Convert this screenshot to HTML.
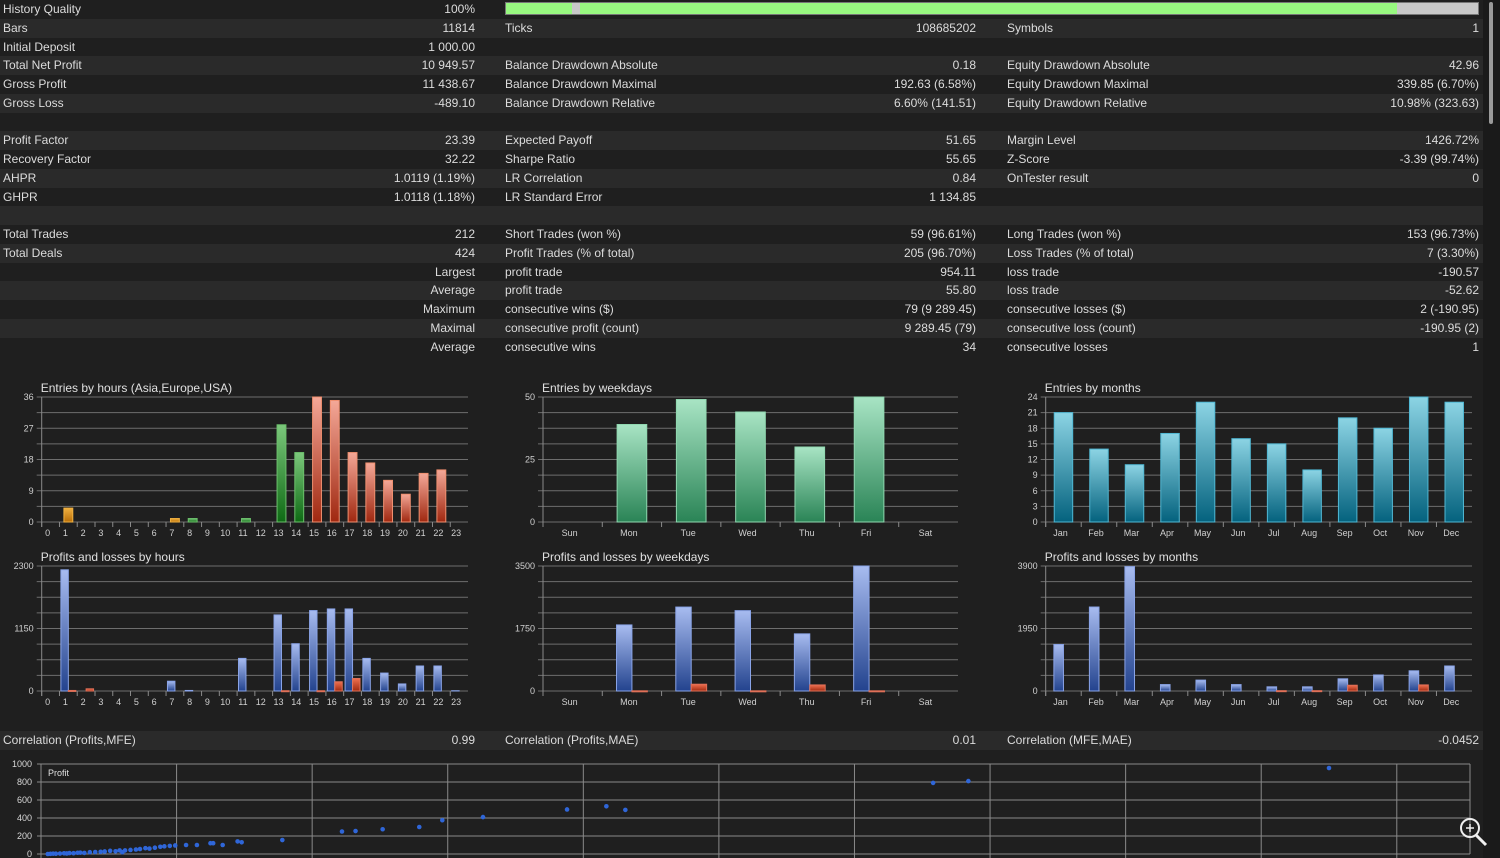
<!DOCTYPE html>
<html><head><meta charset="utf-8">
<style>
html,body{margin:0;padding:0;background:#1f1f1f;width:1500px;height:858px;overflow:hidden;font-family:"Liberation Sans",sans-serif;color:#dcdcdc}
.row{position:absolute;left:0;width:1483px;height:19px;font-size:12px;line-height:19px}
.row.l{background:#2a2a2a}
.c{position:absolute;top:0;white-space:nowrap}
.r{text-align:right}
#sb{position:absolute;left:1483px;top:0;width:17px;height:858px;background:#1a1a1a}
#thumb{position:absolute;left:1489px;top:2px;width:4px;height:122px;background:#9a9a9a;border-radius:2px}
svg{position:absolute;left:0;top:0}
</style></head><body>
<div id="tbl"></div>
<div id="sb"></div>
<div id="thumb"></div>
<svg id="ch" width="1500" height="858">
<defs>
<linearGradient id="gOr" x1="0" y1="0" x2="0" y2="1"><stop offset="0" stop-color="#f0b040"/><stop offset="1" stop-color="#b86e08"/></linearGradient>
<linearGradient id="gGr" x1="0" y1="0" x2="0" y2="1"><stop offset="0" stop-color="#7cc87c"/><stop offset="1" stop-color="#0e6a14"/></linearGradient>
<linearGradient id="gRd" x1="0" y1="0" x2="0" y2="1"><stop offset="0" stop-color="#f4a898"/><stop offset="1" stop-color="#a02810"/></linearGradient>
<linearGradient id="gWk" x1="0" y1="0" x2="0" y2="1"><stop offset="0" stop-color="#a8e4c4"/><stop offset="1" stop-color="#2a8456"/></linearGradient>
<linearGradient id="gMo" x1="0" y1="0" x2="0" y2="1"><stop offset="0" stop-color="#8cd4e4"/><stop offset="1" stop-color="#04627e"/></linearGradient>
<linearGradient id="gBl" x1="0" y1="0" x2="0" y2="1"><stop offset="0" stop-color="#a8bcf0"/><stop offset="1" stop-color="#23438e"/></linearGradient>
<linearGradient id="gLs" x1="0" y1="0" x2="0" y2="1"><stop offset="0" stop-color="#f07050"/><stop offset="1" stop-color="#a02a10"/></linearGradient>
</defs>
</svg>
<script>
const rows=[
["History Quality","100%","","","",""],
["Bars","11814","Ticks","108685202","Symbols","1"],
["Initial Deposit","1 000.00","","","",""],
["Total Net Profit","10 949.57","Balance Drawdown Absolute","0.18","Equity Drawdown Absolute","42.96"],
["Gross Profit","11 438.67","Balance Drawdown Maximal","192.63 (6.58%)","Equity Drawdown Maximal","339.85 (6.70%)"],
["Gross Loss","-489.10","Balance Drawdown Relative","6.60% (141.51)","Equity Drawdown Relative","10.98% (323.63)"],
["","","","","",""],
["Profit Factor","23.39","Expected Payoff","51.65","Margin Level","1426.72%"],
["Recovery Factor","32.22","Sharpe Ratio","55.65","Z-Score","-3.39 (99.74%)"],
["AHPR","1.0119 (1.19%)","LR Correlation","0.84","OnTester result","0"],
["GHPR","1.0118 (1.18%)","LR Standard Error","1 134.85","",""],
["","","","","",""],
["Total Trades","212","Short Trades (won %)","59 (96.61%)","Long Trades (won %)","153 (96.73%)"],
["Total Deals","424","Profit Trades (% of total)","205 (96.70%)","Loss Trades (% of total)","7 (3.30%)"],
["","Largest","profit trade","954.11","loss trade","-190.57"],
["","Average","profit trade","55.80","loss trade","-52.62"],
["","Maximum","consecutive wins ($)","79 (9 289.45)","consecutive losses ($)","2 (-190.95)"],
["","Maximal","consecutive profit (count)","9 289.45 (79)","consecutive loss (count)","-190.95 (2)"],
["","Average","consecutive wins","34","consecutive losses","1"]
];
const corrRow=["Correlation (Profits,MFE)","0.99","Correlation (Profits,MAE)","0.01","Correlation (MFE,MAE)","-0.0452"];
const tbl=document.getElementById('tbl');
function addRow(r,top,light,name){
  const d=document.createElement('div');d.className='row'+(light?' l':'');d.style.top=top+'px';
  
  
  const L=[3,505,1007],R=[475,976,1479];
  for(let k=0;k<3;k++){
    if(r[2*k]){const s=document.createElement('span');s.className='c';s.style.left=L[k]+'px';s.textContent=r[2*k];
      
      
      d.appendChild(s);}
    if(r[2*k+1]){const s=document.createElement('span');s.className='c r';s.style.right=(1483-R[k])+'px';s.textContent=r[2*k+1];
      
      
      d.appendChild(s);}
  }
  tbl.appendChild(d);return d;
}
rows.forEach((r,i)=>addRow(r,Math.round(i*18.75),i%2==1,'stat-row'));
addRow(corrRow,731,true,'correlation-row');
const hq=document.createElement('div');


hq.style.cssText='position:absolute;left:505px;top:2px;width:974px;height:13px;background:linear-gradient(90deg,#98f880 0,#98f880 66px,#c8c8c8 66px,#c8c8c8 74px,#98f880 74px,#98f880 891px,#c8c8c8 891px);border:1px solid #777;box-sizing:border-box';
document.body.appendChild(hq);

const NS='http://www.w3.org/2000/svg';const svg=document.getElementById('ch');
function el(t,a,p){const e=document.createElementNS(NS,t);for(const k in a)e.setAttribute(k,a[k]);(p||svg).appendChild(e);return e;}

const hourCats=["0","1","2","3","4","5","6","7","8","9","10","11","12","13","14","15","16","17","18","19","20","21","22","23"];
const hourEntries=[0,4,0,0,0,0,0,1,1,0,0,1,0,28,20,36,35,20,17,12,8,14,15,0];
const hourProfits=[0,2230,0,0,0,0,0,180,10,0,0,600,0,1400,870,1480,1510,1510,600,330,130,460,460,5];
const hourLosses=[0,10,40,0,0,0,0,0,0,0,0,0,0,5,0,5,170,230,0,0,0,0,0,0];
const dayCats=["Sun","Mon","Tue","Wed","Thu","Fri","Sat"];
const dayEntries=[0,39,49,44,30,50,0];
const dayProfits=[0,1850,2350,2250,1600,3500,0];
const dayLosses=[0,5,190,5,170,5,0];
const monCats=["Jan","Feb","Mar","Apr","May","Jun","Jul","Aug","Sep","Oct","Nov","Dec"];
const monEntries=[21,14,11,17,23,16,15,10,20,18,24,23];
const monProfits=[1450,2620,3880,200,340,200,130,130,380,500,630,780];
const monLosses=[0,0,0,0,0,0,10,10,180,0,190,0];
const hourTicks=[0,9,18,27,36];
const dayTicks=[0,25,50];
const monTicks=[0,3,6,9,12,15,18,21,24];
const scMFE=[5,7,9,11,14,17,19,21,24,27,29,32,36,40,44,47,51,55,58,60,62,66,70,73,77,80,84,88,91,95,99,107,115,125,127,134,145,148,178,222,232,252,279,296,326,388,417,431,658,684,950];
const scProfit=[0,2,4,3,5,8,6,10,9,14,15,12,20,22,25,28,35,30,40,20,40,45,50,55,65,60,70,80,85,90,95,100,100,120,120,100,140,130,155,250,255,275,300,375,410,495,530,490,790,810,955];

function barChart(o){
  const g=el('g',{});
  const x0=o.x0,x1=o.x1,yT=o.yT,yB=o.yB,n=o.cats.length,pw=(x1-x0)/n;
  const ys=v=>yB-(v/o.max)*(yB-yT);
  const t=el('text',{x:o.x0-1,y:yT-5,fill:'#e0e0e0','font-size':'12'},g);t.textContent=o.title;
  
  for(let i=0;i<=8;i++){const y=yT+i*(yB-yT)/8;const l=el('line',{x1:x0-5,x2:x1,y1:y,y2:y,stroke:'#6e6e6e','stroke-width':1},g);
    }
  el('line',{x1:x0,x2:x0,y1:yT,y2:yB+5,stroke:'#8a8a8a'},g);
  o.ticks.forEach(v=>{const tt=el('text',{x:x0-8,y:ys(v)+3,fill:'#d0d0d0','font-size':'9','text-anchor':'end'},g);tt.textContent=v;
    });
  for(let i=0;i<n;i++){
    el('line',{x1:x0+i*pw,x2:x0+i*pw,y1:yB,y2:yB+5,stroke:'#8a8a8a'},g);
    const tl=el('text',{x:x0+(i+0.5)*pw-3,y:yB+14,fill:'#d0d0d0','font-size':'9','text-anchor':'middle'},g);tl.textContent=o.cats[i];
    
  }
  const vals=o.vals;
  if(!o.loss){
    vals.forEach((v,i)=>{if(v<=0)return;const w=pw*o.bw;const bx=x0+i*pw+(pw-w)/2;
      const r=el('rect',{x:bx,y:ys(v),width:w,height:yB-ys(v),fill:'url(#'+o.fill(i)+')',stroke:o.stroke(i),'stroke-width':1},g);
      
      
    });
  } else {
    const w=pw*o.bw;
    vals.forEach((v,i)=>{const bx=x0+i*pw+pw/2-w;
      if(v>0){const r=el('rect',{x:bx,y:ys(v),width:w,height:yB-ys(v),fill:'url(#gBl)',stroke:'#8aa4e8'},g);
        
        }
      const lv=o.loss[i];
      if(lv>0){const r=el('rect',{x:bx+w,y:ys(lv),width:w,height:Math.max(1,yB-ys(lv)),fill:'url(#gLs)',stroke:'#e07058'},g);
        
        }
    });
  }
}
const hourFillF=i=>(i<=7?'gOr':(i<=14?'gGr':'gRd'));
const hourStroke=i=>(i<=7?'#f0b040':(i<=14?'#6cc06c':'#f09070'));
barChart({name:'entries-by-hours-chart',title:'Entries by hours (Asia,Europe,USA)',x0:41.7,x1:468,yT:397,yB:522,cats:hourCats,vals:hourEntries,max:36,ticks:hourTicks,bw:0.5,fill:hourFillF,stroke:hourStroke});
barChart({name:'profits-by-hours-chart',title:'Profits and losses by hours',x0:41.7,x1:468,yT:566,yB:691,cats:hourCats,vals:hourProfits,loss:hourLosses,max:2300,ticks:[0,1150,2300],bw:0.42});
barChart({name:'entries-by-weekdays-chart',title:'Entries by weekdays',x0:543,x1:958,yT:397,yB:522,cats:dayCats,vals:dayEntries,max:50,ticks:dayTicks,bw:0.5,fill:i=>'gWk',stroke:i=>'#90d8b0'});
barChart({name:'profits-by-weekdays-chart',title:'Profits and losses by weekdays',x0:543,x1:958,yT:566,yB:691,cats:dayCats,vals:dayProfits,loss:dayLosses,max:3500,ticks:[0,1750,3500],bw:0.26});
barChart({name:'entries-by-months-chart',title:'Entries by months',x0:1045.7,x1:1472,yT:397,yB:522,cats:monCats,vals:monEntries,max:24,ticks:monTicks,bw:0.52,fill:i=>'gMo',stroke:i=>'#50b8d4'});
barChart({name:'profits-by-months-chart',title:'Profits and losses by months',x0:1045.7,x1:1472,yT:566,yB:691,cats:monCats,vals:monProfits,loss:monLosses,max:3900,ticks:[0,1950,3900],bw:0.27});

(function(){
  const g=el('g',{});
  const x0=41,x1=1470,yT=764,yB=854;const xmax=1054;
  const xs=v=>x0+v/xmax*(x1-x0),ys=v=>yB-v/1000*(yB-yT);
  for(let v=0;v<=1000;v+=200){el('line',{x1:x0-4,x2:x1,y1:ys(v),y2:ys(v),stroke:'#8a8a8a'},g);
    const t=el('text',{x:x0-9,y:ys(v)+3,fill:'#d8d8d8','font-size':'9','text-anchor':'end'},g);t.textContent=v;
    }
  for(let v=0;v<=1000;v+=100){el('line',{x1:xs(v),x2:xs(v),y1:yT,y2:yB+4,stroke:'#8a8a8a'},g);}
  el('line',{x1:x1,x2:x1,y1:yT,y2:yB,stroke:'#8a8a8a'},g);
  const pt=el('text',{x:48,y:776,fill:'#e0e0e0','font-size':'9'},g);pt.textContent='Profit';
  
  scMFE.forEach((m,i)=>{const c=el('circle',{cx:xs(m),cy:ys(scProfit[i]),r:2.3,fill:'#2f66d8'},g);
    });
})();
const mg=el('g',{});
el('circle',{cx:1470,cy:828,r:9,fill:'none',stroke:'#f0f0f0','stroke-width':2},mg);
el('line',{x1:1476,y1:835,x2:1486,y2:845,stroke:'#f0f0f0','stroke-width':3},mg);
el('line',{x1:1466,y1:828,x2:1474,y2:828,stroke:'#f0f0f0','stroke-width':1.5},mg);
el('line',{x1:1470,y1:824,x2:1470,y2:832,stroke:'#f0f0f0','stroke-width':1.5},mg);
</script>
</body></html>
